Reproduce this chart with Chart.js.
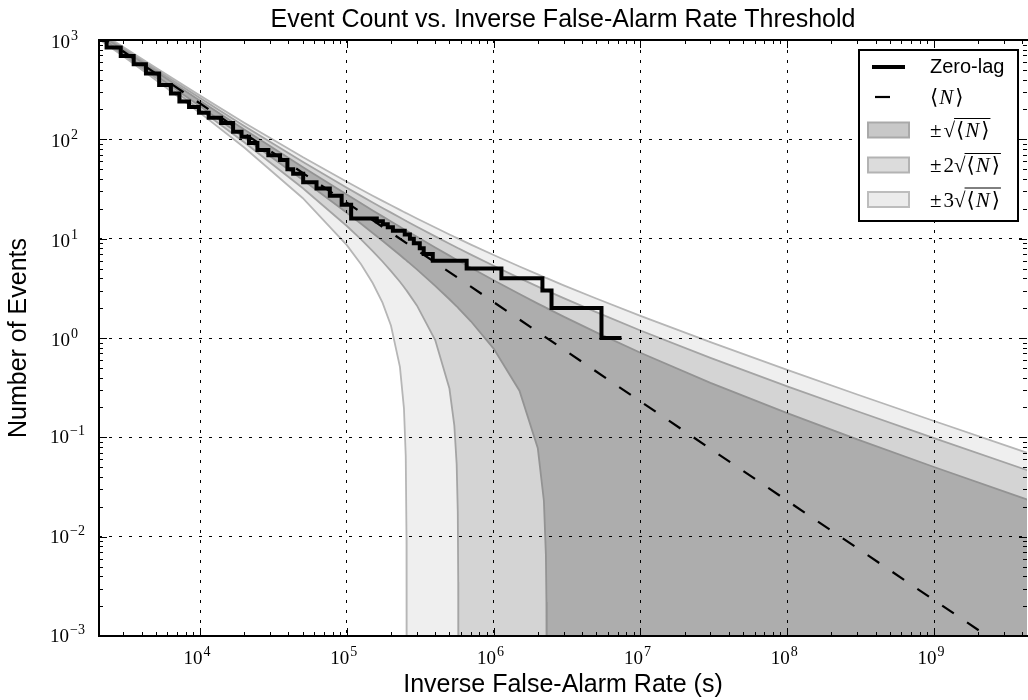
<!DOCTYPE html>
<html lang="en">
<head>
<meta charset="UTF-8">
<title>Event Count vs. Inverse False-Alarm Rate Threshold</title>
<style>
  body { margin: 0; background: #fff; }
  #chart { display: block; }
</style>
</head>
<body>
<canvas id="chart" width="1028" height="700"></canvas>
<script src="https://cdn.jsdelivr.net/npm/chart.js"></script>
<script>

// zero-lag staircase: where each count level starts (s) and the count
const zeroLagX = [2050, 2309, 2884, 3533, 4281, 5266, 6334, 7236, 8417, 9829,
    11456, 13919, 16796, 19174, 21555, 24595, 29191, 35043, 39372, 43092,
    50422, 62161, 76583, 92195, 107000, 160000, 176000, 190000, 206000, 248000,
    269000, 286000, 314000, 334000, 385000, 655000, 1130000, 2150000, 2480000, 5430000, 7430000];
const zeroLagN = [1000, 840, 690, 570, 460, 352, 290, 240, 212, 185,
    165, 146, 119, 106, 92, 78, 69, 62, 50, 45,
    37, 32, 27, 22, 16, 15, 14, 13, 12, 11,
    10, 9, 8, 7, 6, 5, 4, 3, 2, 1, 1];

// expected count <N> (straight dashed line)
const expectedX = [2000, 4.3e9];
const expectedN = [1150, 0.000535];

// shaded bands, read at these rates
const bandX = [2e3, 3e3, 5e3, 1e4, 2e4, 5e4, 1e5, 1.25e5, 1.5e5, 1.75e5,
    2e5, 2.3e5, 2.45e5, 2.52e5, 2.55e5, 2.556e5, 3e5, 4e5, 5e5, 5.4e5,
    5.6e5, 5.7e5, 5.74e5, 5.75e5, 7e5, 1e6, 1.5e6, 2e6, 2.2e6, 2.27e6,
    2.29e6, 2.3e6, 3e6, 5e6, 1e7, 3e7, 1e8, 3e8, 1e9, 4.5e9];
const band1Upper = [1184, 794, 481, 245, 125.7, 52.8, 27.8, 22.69, 19.25, 16.77,
    14.89, 13.16, 12.45, 12.15, 12.02, 12.0, 10.44, 8.15, 6.75, 6.32,
    6.13, 6.04, 6.01, 6.0, 5.10, 3.82, 2.77, 2.22, 2.07, 2.02,
    2.01, 2.0, 1.64, 1.14, 0.71, 0.354, 0.175, 0.0952, 0.0503, 0.0231];
const band1Lower = [1116, 739, 438.6, 214.8, 104.3, 39.2, 18.2, 14.11, 11.42, 9.52,
    8.11, 6.84, 6.32, 6.11, 6.02, 6.0, 4.90, 3.35, 2.455, 2.195,
    2.08, 2.03, 2.005, 2.0, 1.473, 0.783, 0.295, 0.0776, 0.023, 0.0066,
    0.0022, 0.0001, 0.0001, 0.0001, 0.0001, 0.0001, 0.0001, 0.0001, 0.0001, 0.0001];
const band2Upper = [1218, 822, 503, 260, 136.4, 59.6, 32.6, 26.98, 23.16, 20.39,
    18.28, 16.32, 15.52, 15.17, 15.03, 15.0, 13.2, 10.55, 8.89, 8.39,
    8.16, 8.05, 8.01, 8.0, 6.91, 5.33, 4.01, 3.29, 3.09, 3.03,
    3.01, 3.0, 2.52, 1.82, 1.19, 0.631, 0.326, 0.183, 0.0982, 0.0457];
const band2Lower = [1082, 711, 417, 199.7, 93.6, 32.4, 13.4, 9.82, 7.50, 5.89,
    4.72, 3.68, 3.26, 3.08, 3.01, 3.0, 2.13, 0.954, 0.31, 0.131,
    0.054, 0.0176, 0.0035, 0.0001, 0.0001, 0.0001, 0.0001, 0.0001, 0.0001, 0.0001,
    0.0001, 0.0001, 0.0001, 0.0001, 0.0001, 0.0001, 0.0001, 0.0001, 0.0001, 0.0001];
const band3Upper = [1252, 850, 524, 275.5, 147.2, 66.3, 37.4, 31.27, 27.08, 24.02,
    21.67, 19.49, 18.58, 18.19, 18.03, 18.0, 15.97, 12.94, 11.03, 10.45,
    10.19, 10.06, 10.01, 10.0, 8.72, 6.85, 5.25, 4.37, 4.11, 4.03,
    4.01, 4.0, 3.39, 2.50, 1.67, 0.907, 0.478, 0.270, 0.146, 0.0683];
const band3Lower = [1048, 684, 396, 184.5, 82.8, 25.7, 8.61, 5.53, 3.58, 2.27,
    1.33, 0.513, 0.196, 0.064, 0.0098, 0.0001, 0.0001, 0.0001, 0.0001, 0.0001,
    0.0001, 0.0001, 0.0001, 0.0001, 0.0001, 0.0001, 0.0001, 0.0001, 0.0001, 0.0001,
    0.0001, 0.0001, 0.0001, 0.0001, 0.0001, 0.0001, 0.0001, 0.0001, 0.0001, 0.0001];

const xMin = 2050, xMax = 4.3e9;
const yMin = 1e-3, yMax = 1e3;

const SANS = '"Liberation Sans", Arial, Helvetica, sans-serif';
const SERIF = '"Liberation Serif", "DejaVu Serif", serif';

function pairs(xs, ys) {
    return xs.map((x, i) => ({x: x, y: ys[i]}));
}

function isDecade(t) {
    const l = Math.log10(t.value);
    return Math.abs(l - Math.round(l)) < 1e-9;
}

function seg(ctx, x1, y1, x2, y2) {
    ctx.beginPath();
    ctx.moveTo(x1, y1);
    ctx.lineTo(x2, y2);
    ctx.stroke();
}

// "10" with a raised exponent; returns total width
function powerLabel(ctx, e, x, baseline, measureOnly) {
    const sup = e < 0 ? '\u2212' + (-e) : String(e);
    ctx.font = '19px ' + SERIF;
    const wb = ctx.measureText('10').width;
    ctx.font = '14px ' + SERIF;
    const ws = ctx.measureText(sup).width;
    if (!measureOnly) {
        ctx.font = '19px ' + SERIF;
        ctx.fillText('10', x, baseline);
        ctx.font = '14px ' + SERIF;
        ctx.fillText(sup, x + wb + 1, baseline - 8);
    }
    return wb + ws + 1;
}

function bracketN(ctx, x, y) {
    ctx.font = '21px ' + SERIF;
    ctx.fillText('\u27E8', x, y);
    x += ctx.measureText('\u27E8').width + 1;
    ctx.font = 'italic 21px ' + SERIF;
    ctx.fillText('N', x, y);
    x += ctx.measureText('N').width + 2;
    ctx.font = '21px ' + SERIF;
    ctx.fillText('\u27E9', x, y);
    return x + ctx.measureText('\u27E9').width;
}

const legendRows = [
    {label: 'Zero-lag', kind: 'line', y: 67},
    {label: '\u27E8N\u27E9', kind: 'dash', y: 97},
    {label: '\u00B1\u221A\u27E8N\u27E9', kind: 'box', coef: 1, fill: '#c8c8c8', edge: '#a9a9a9', y: 130},
    {label: '\u00B12\u221A\u27E8N\u27E9', kind: 'box', coef: 2, fill: '#dcdcdc', edge: '#b3b3b3', y: 165},
    {label: '\u00B13\u221A\u27E8N\u27E9', kind: 'box', coef: 3, fill: '#ececec', edge: '#bdbdbd', y: 199.5}
];

const decorations = {
    id: 'decorations',
    afterDraw(chart) {
        const ctx = chart.ctx;
        const a = chart.chartArea;
        const xs = chart.scales.x, ys = chart.scales.y;
        ctx.save();
        ctx.strokeStyle = '#000';
        ctx.fillStyle = '#000';

        // tick marks, inside, on all four sides
        ctx.lineWidth = 1;
        for (let e = -4; e <= 10; e++) {
            for (let k = 1; k <= 9; k++) {
                const v = k * Math.pow(10, e);
                const len = k === 1 ? 8 : 4;
                if (v >= xMin && v <= xMax) {
                    const px = Math.round(xs.getPixelForValue(v)) + 0.5;
                    seg(ctx, px, a.bottom, px, a.bottom - len);
                    seg(ctx, px, a.top, px, a.top + len);
                }
                if (v >= yMin * 0.999 && v <= yMax * 1.001) {
                    const py = Math.round(ys.getPixelForValue(v)) + 0.5;
                    seg(ctx, a.left, py, a.left + len, py);
                    seg(ctx, a.right, py, a.right - len, py);
                }
            }
        }

        // spines
        ctx.lineWidth = 2;
        ctx.beginPath();
        ctx.moveTo(a.right + 2, a.top);
        ctx.lineTo(a.left, a.top);
        ctx.lineTo(a.left, a.bottom);
        ctx.lineTo(a.right + 2, a.bottom);
        ctx.stroke();

        // tick labels
        ctx.textAlign = 'left';
        ctx.textBaseline = 'alphabetic';
        for (let e = 4; e <= 9; e++) {
            const px = xs.getPixelForValue(Math.pow(10, e));
            const w = powerLabel(ctx, e, 0, 0, true);
            powerLabel(ctx, e, px - w / 2 - 3, 664, false);
        }
        for (let e = -3; e <= 3; e++) {
            const py = ys.getPixelForValue(Math.pow(10, e));
            const w = powerLabel(ctx, e, 0, 0, true);
            const right = e < 0 ? 85 : 78;
            powerLabel(ctx, e, right - w, py + (e < 0 ? 6 : 8), false);
        }

        // title
        ctx.font = '25px ' + SANS;
        ctx.textAlign = 'center';
        ctx.fillText('Event Count vs. Inverse False-Alarm Rate Threshold', (a.left + a.right) / 2, 27);

        // legend
        const bx = a.right - 168, by = 50, bw = 159, bh = 171;
        ctx.fillStyle = '#fff';
        ctx.fillRect(bx, by, bw, bh);
        ctx.lineWidth = 2;
        ctx.strokeRect(bx, by, bw, bh);
        ctx.fillStyle = '#000';
        ctx.textAlign = 'left';
        const tx = bx + 71;
        legendRows.forEach(r => {
            if (r.kind === 'line') {
                ctx.lineWidth = 4;
                seg(ctx, bx + 13, r.y, bx + 46, r.y);
                ctx.font = '20px ' + SANS;
                ctx.textBaseline = 'middle';
                ctx.fillText(r.label, tx, r.y);
                ctx.textBaseline = 'alphabetic';
            } else if (r.kind === 'dash') {
                ctx.lineWidth = 2.2;
                seg(ctx, bx + 16, r.y, bx + 31, r.y);
                bracketN(ctx, tx, r.y + 7);
            } else {
                ctx.fillStyle = r.fill;
                ctx.fillRect(bx + 9, r.y - 7.5, 41, 15);
                ctx.strokeStyle = r.edge;
                ctx.lineWidth = 2;
                ctx.strokeRect(bx + 9, r.y - 7.5, 41, 15);
                ctx.strokeStyle = '#000';
                ctx.fillStyle = '#000';
                const b = r.y + 7;
                let x = tx;
                ctx.font = '21px ' + SERIF;
                ctx.fillText('\u00B1', x, b);
                x += ctx.measureText('\u00B1').width + 2;
                if (r.coef > 1) {
                    ctx.fillText(String(r.coef), x, b);
                    x += ctx.measureText(String(r.coef)).width;
                }
                ctx.fillText('\u221A', x, b);
                const rx = x + ctx.measureText('\u221A').width;
                const end = bracketN(ctx, rx + 1, b);
                ctx.lineWidth = 1;
                seg(ctx, rx - 1, b - 18.5, end + 1, b - 18.5);
            }
        });
        ctx.restore();
    }
};

const lineBase = {pointRadius: 0, tension: 0};

new Chart(document.getElementById('chart'), {
    type: 'line',
    data: {
        datasets: [
            Object.assign({
                label: 'Zero-lag', data: pairs(zeroLagX, zeroLagN),
                borderColor: '#000', borderWidth: 4, stepped: 'before',
                borderJoinStyle: 'miter', fill: false
            }, lineBase),
            Object.assign({
                label: '\u27E8N\u27E9', data: pairs(expectedX, expectedN),
                borderColor: '#000', borderWidth: 2.2, borderDash: [14, 16], fill: false
            }, lineBase),
            Object.assign({
                label: '\u00B1\u221A\u27E8N\u27E9', data: pairs(bandX, band1Upper),
                borderColor: '#939393', borderWidth: 1.8, fill: false
            }, lineBase),
            Object.assign({
                label: '\u00B1\u221A\u27E8N\u27E9 lower', data: pairs(bandX, band1Lower),
                borderColor: '#939393', borderWidth: 1.8, fill: '-1', backgroundColor: '#adadad'
            }, lineBase),
            Object.assign({
                label: '\u00B12\u221A\u27E8N\u27E9', data: pairs(bandX, band2Upper),
                borderColor: '#a4a4a4', borderWidth: 1.8, fill: false
            }, lineBase),
            Object.assign({
                label: '\u00B12\u221A\u27E8N\u27E9 lower', data: pairs(bandX, band2Lower),
                borderColor: '#a4a4a4', borderWidth: 1.8, fill: '-1', backgroundColor: '#d4d4d4'
            }, lineBase),
            Object.assign({
                label: '\u00B13\u221A\u27E8N\u27E9', data: pairs(bandX, band3Upper),
                borderColor: '#b6b6b6', borderWidth: 1.8, fill: false
            }, lineBase),
            Object.assign({
                label: '\u00B13\u221A\u27E8N\u27E9 lower', data: pairs(bandX, band3Lower),
                borderColor: '#b6b6b6', borderWidth: 1.8, fill: '-1', backgroundColor: '#efefef'
            }, lineBase)
        ]
    },
    options: {
        responsive: false,
        devicePixelRatio: 1,
        animation: false,
        events: [],
        layout: {padding: {top: 40, right: 1, left: 0, bottom: 0}},
        plugins: {
            legend: {display: false},
            title: {display: false},
            tooltip: {enabled: false}
        },
        scales: {
            x: {
                type: 'logarithmic', min: xMin, max: xMax,
                afterBuildTicks: s => { s.ticks = s.ticks.filter(isDecade); },
                afterFit: s => { s.height = 64; },
                ticks: {display: false},
                grid: {color: '#000', lineWidth: 1, drawTicks: false, z: 1, borderDash: [3, 7]},
                border: {display: false, dash: [3, 7]},
                title: {
                    display: true, text: 'Inverse False-Alarm Rate (s)', color: '#000',
                    font: {family: SANS, size: 25, weight: 'normal'}, padding: {top: 0, bottom: 0}
                }
            },
            y: {
                type: 'logarithmic', min: yMin, max: yMax,
                afterBuildTicks: s => { s.ticks = s.ticks.filter(isDecade); },
                afterFit: s => { s.width = 99; },
                ticks: {display: false},
                grid: {color: '#000', lineWidth: 1, drawTicks: false, z: 1, borderDash: [3, 7]},
                border: {display: false, dash: [3, 7]},
                title: {
                    display: true, text: 'Number of Events', color: '#000',
                    font: {family: SANS, size: 25, weight: 'normal'}, padding: {top: 4, bottom: 0}
                }
            }
        }
    },
    plugins: [decorations]
});

</script>
</body>
</html>
